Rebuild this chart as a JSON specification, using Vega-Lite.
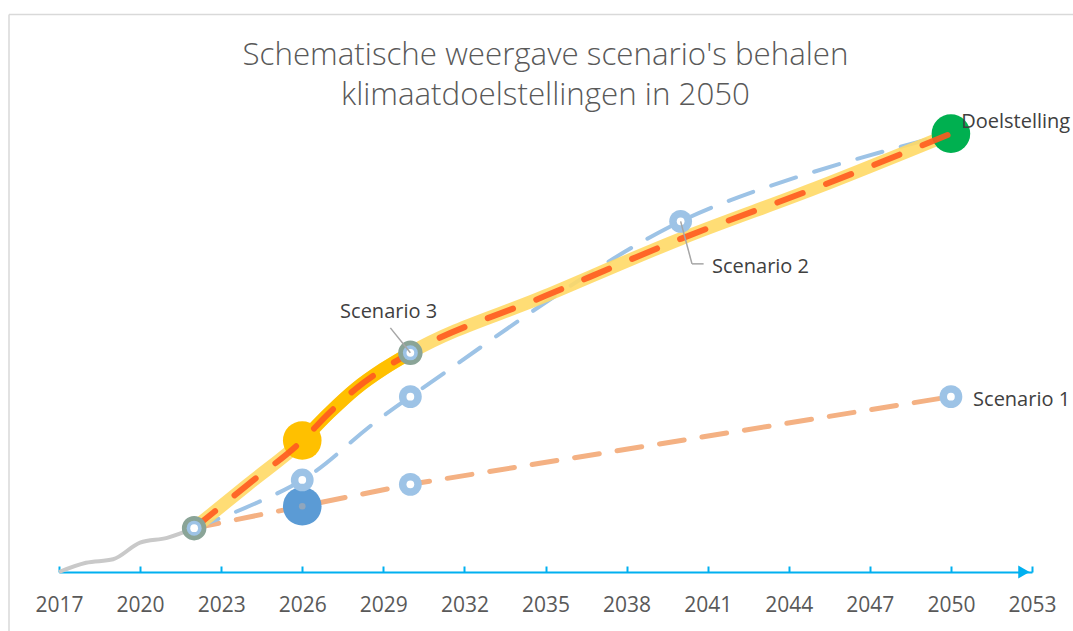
{
  "$schema": "https://vega.github.io/schema/vega-lite/v6.json",
  "width": 973,
  "height": 558,
  "autosize": {"type": "none"},
  "padding": {"left": 59, "top": 14, "right": 41, "bottom": 59},
  "background": "white",
  "config": {"view": {"stroke": null}},
  "title": {
    "text": ["Schematische weergave scenario's behalen", "klimaatdoelstellingen in 2050"],
    "font": "Open Sans",
    "fontWeight": 300,
    "fontSize": 31.3,
    "lineHeight": 40,
    "color": "#595959",
    "anchor": "middle",
    "offset": 0,
    "dy": 98
  },
  "datasets": {
    "border": [
      {"x": 2015.15, "y": 127.2, "x2": 2055, "y2": 127.2},
      {"x": 2015.15, "y": -14, "x2": 2015.15, "y2": 127.2}
    ],
    "history": [
      {"year": 2017, "value": 0}, {"year": 2018, "value": 2.1}, {"year": 2019, "value": 2.9},
      {"year": 2020, "value": 6.7}, {"year": 2021, "value": 7.8}, {"year": 2022, "value": 10}
    ],
    "scenario1": [
      {"year": 2022, "value": 10}, {"year": 2030, "value": 20}, {"year": 2050, "value": 40}
    ],
    "scenario2": [
      {"year": 2022, "value": 10}, {"year": 2026, "value": 21}, {"year": 2030, "value": 40},
      {"year": 2040, "value": 80}, {"year": 2050, "value": 100}
    ],
    "scenario3": [
      {"year": 2022, "value": 10}, {"year": 2024, "value": 20}, {"year": 2026, "value": 30},
      {"year": 2027, "value": 36.3}, {"year": 2028, "value": 41.9}, {"year": 2029, "value": 46.3},
      {"year": 2030, "value": 50}, {"year": 2035, "value": 63}, {"year": 2040, "value": 76},
      {"year": 2045, "value": 87.6}, {"year": 2050, "value": 100}
    ],
    "greenRings": [
      {"year": 2022, "value": 10}, {"year": 2030, "value": 50}
    ],
    "blueRings": [
      {"year": 2026, "value": 21}, {"year": 2030, "value": 40}, {"year": 2030, "value": 20},
      {"year": 2040, "value": 80}, {"year": 2050, "value": 40}
    ],
    "bigDots": [
      {"year": 2026, "value": 15, "kind": "blauw"},
      {"year": 2026, "value": 30, "kind": "geel"}
    ],
    "goal": [
      {"year": 2050, "value": 100}
    ],
    "leaders": [
      {"x": 2029.26, "y": 55.7, "x2": 2030, "y2": 50},
      {"x": 2040, "y": 80, "x2": 2040.42, "y2": 70.3},
      {"x": 2040.42, "y": 70.3, "x2": 2040.85, "y2": 70.3}
    ],
    "labels": [
      {"year": 2027.4, "value": 57.95, "label": "Scenario 3"},
      {"year": 2041.16, "value": 68.2, "label": "Scenario 2"},
      {"year": 2050.82, "value": 37.9, "label": "Scenario 1"},
      {"year": 2050.38, "value": 101.4, "label": "Doelstelling"}
    ],
    "arrow": [
      {"year": 2052.7, "value": 0}
    ]
  },
  "encoding": {
    "x": {
      "field": "year", "type": "quantitative",
      "scale": {"domain": [2017, 2053], "nice": false, "zero": false},
      "axis": {
        "values": [2017, 2020, 2023, 2026, 2029, 2032, 2035, 2038, 2041, 2044, 2047, 2050, 2053],
        "format": "d", "title": null, "grid": false,
        "ticks": true, "tickSize": -6, "tickColor": "#00B0F0", "tickWidth": 2,
        "domainColor": "#00B0F0", "domainWidth": 2,
        "labelFont": "Open Sans", "labelFontSize": 21, "labelColor": "#595959",
        "labelPadding": 28, "labelFlush": false, "labelOverlap": false
      }
    },
    "y": {
      "field": "value", "type": "quantitative",
      "scale": {"domain": [0, 127.3], "nice": false, "zero": false},
      "axis": null
    }
  },
  "layer": [
    {
      "data": {"name": "border"},
      "mark": {"type": "rule", "color": "#D9D9D9", "strokeWidth": 1.5, "clip": false},
      "encoding": {
        "x": {"field": "x", "type": "quantitative"},
        "y": {"field": "y", "type": "quantitative"},
        "x2": {"field": "x2"},
        "y2": {"field": "y2"}
      }
    },
    {
      "data": {"name": "arrow"},
      "mark": {"type": "point", "shape": "triangle-right", "filled": true, "color": "#00B0F0", "size": 170, "opacity": 1, "clip": false}
    },
    {
      "data": {"name": "history"},
      "mark": {"type": "line", "color": "#C9C9C9", "strokeWidth": 4, "interpolate": "monotone"}
    },
    {
      "data": {"name": "scenario1"},
      "mark": {"type": "line", "color": "#F4B183", "strokeWidth": 5, "strokeDash": [25, 18], "strokeCap": "round"}
    },
    {
      "data": {"name": "scenario2"},
      "mark": {"type": "line", "color": "#9DC3E6", "strokeWidth": 4, "strokeDash": [26, 19], "strokeCap": "round", "interpolate": "cardinal", "tension": 0}
    },
    {
      "data": {"name": "scenario3"},
      "mark": {"type": "line", "color": "#FFD966", "opacity": 0.9, "strokeWidth": 13, "strokeCap": "round", "interpolate": "monotone"}
    },
    {
      "data": {"name": "scenario3"},
      "transform": [{"filter": "datum.year >= 2026 && datum.year <= 2030"}],
      "mark": {"type": "line", "color": "#FFC000", "strokeWidth": 13, "strokeCap": "butt", "interpolate": "monotone"}
    },
    {
      "data": {"name": "goal"},
      "mark": {"type": "point", "shape": "circle", "filled": true, "color": "#00B050", "opacity": 1, "size": 1490}
    },
    {
      "data": {"name": "bigDots"},
      "mark": {"type": "point", "shape": "circle", "filled": true, "opacity": 1, "size": 1490},
      "encoding": {
        "color": {"field": "kind", "type": "nominal", "scale": {"domain": ["blauw", "geel"], "range": ["#5B9BD5", "#FFC000"]}, "legend": null}
      }
    },
    {
      "data": {"name": "scenario3"},
      "mark": {"type": "line", "color": "#FF5A1F", "opacity": 0.9, "strokeWidth": 6, "strokeDash": [27, 25], "strokeCap": "round", "interpolate": "monotone"}
    },
    {
      "data": {"name": "bigDots"},
      "transform": [{"filter": "datum.kind === 'blauw'"}],
      "mark": {"type": "point", "shape": "circle", "filled": true, "color": "#8FA6BD", "opacity": 1, "size": 44}
    },
    {
      "data": {"name": "greenRings"},
      "mark": {"type": "point", "shape": "circle", "filled": true, "color": "#8AA497", "opacity": 1, "size": 600}
    },
    {
      "data": {"name": "greenRings"},
      "mark": {"type": "point", "shape": "circle", "filled": true, "color": "#9DC3E6", "opacity": 1, "size": 225}
    },
    {
      "data": {"name": "blueRings"},
      "mark": {"type": "point", "shape": "circle", "filled": true, "color": "#9DC3E6", "opacity": 1, "size": 520}
    },
    {
      "data": {"name": "blueRings"},
      "mark": {"type": "point", "shape": "circle", "filled": true, "color": "#FFFFFF", "opacity": 1, "size": 60}
    },
    {
      "data": {"name": "greenRings"},
      "mark": {"type": "point", "shape": "circle", "filled": true, "color": "#FFFFFF", "opacity": 1, "size": 60}
    },
    {
      "data": {"name": "leaders"},
      "mark": {"type": "rule", "color": "#A6A6A6", "strokeWidth": 1.5},
      "encoding": {
        "x": {"field": "x", "type": "quantitative"},
        "y": {"field": "y", "type": "quantitative"},
        "x2": {"field": "x2"},
        "y2": {"field": "y2"}
      }
    },
    {
      "data": {"name": "labels"},
      "mark": {"type": "text", "font": "Open Sans", "fontSize": 20, "color": "#404040", "align": "left", "baseline": "alphabetic", "clip": false},
      "encoding": {
        "text": {"field": "label", "type": "nominal"}
      }
    }
  ]
}
